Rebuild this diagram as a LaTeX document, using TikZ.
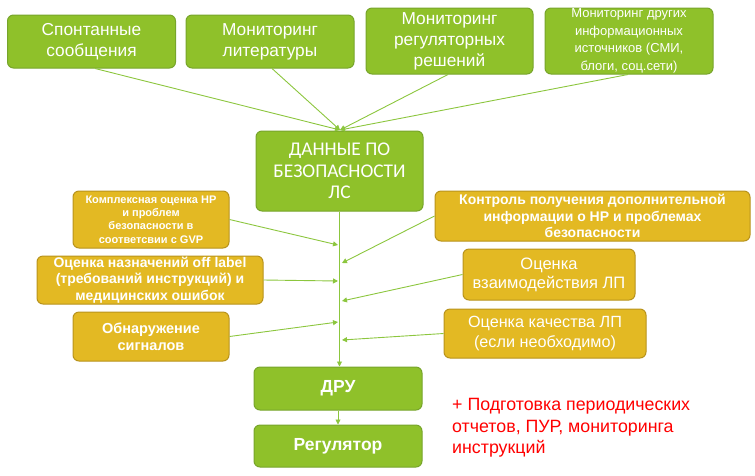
\documentclass[tikz,border=0pt]{standalone}
\usepackage{fontspec}
\setmainfont{Liberation Sans}
\newfontfamily\calibrifont{Carlito}
\usetikzlibrary{arrows.meta}

\definecolor{leafgreen}{RGB}{143,193,42}
\definecolor{leafedge}{RGB}{119,165,42}
\definecolor{goldfill}{RGB}{227,185,35}
\definecolor{goldedge}{RGB}{184,147,28}
\definecolor{linkgreen}{RGB}{140,198,62}

\tikzset{
  greenbox/.style={draw=leafedge, fill=leafgreen, line width=1pt, rounded corners=6pt,
    text=white, align=center, inner sep=0pt},
  goldbox/.style={draw=goldedge, fill=goldfill, line width=1pt, rounded corners=6pt,
    text=white, align=center, inner sep=0pt},
  link/.style={draw=linkgreen, line width=0.9pt, -{Triangle[length=5pt,width=5pt]}},
}

\begin{document}
\begin{tikzpicture}[x=1pt, y=-1pt]
    \useasboundingbox (0,0) rectangle (755,475);

    % Sources
    \node[greenbox, minimum width=168, minimum height=53, font=\fontsize{17.3}{21}\selectfont] (spont) at (91.5,41.5) {Спонтанные\\сообщения};
    \node[greenbox, minimum width=168, minimum height=53, font=\fontsize{17.3}{21}\selectfont] (lit) at (270,41.5) {Мониторинг\\литературы};
    \node[greenbox, minimum width=167, minimum height=66, font=\fontsize{17.3}{21}\selectfont] (reg) at (449.5,41) {Мониторинг\\регуляторных\\решений};
    \node[greenbox, minimum width=168, minimum height=66, font=\fontsize{13}{17.5}\selectfont] (media) at (629,41) {Мониторинг других\\информационных\\источников (СМИ,\\блоги, соц.сети)};

    % Safety data
    \node[greenbox, minimum width=167, minimum height=80, font=\calibrifont\fontsize{19.4}{21.5}\selectfont] (data) at (339.5,171) {ДАННЫЕ ПО\\БЕЗОПАСНОСТИ\\ЛС};

    % Left activities
    \node[goldbox, minimum width=156, minimum height=57, font=\bfseries\fontsize{11}{13.3}\selectfont] (complex) at (151,219.5) {Комплексная оценка НР\\и проблем\\безопасности в\\соответсвии с GVP};
    \node[goldbox, minimum width=226, minimum height=48, font=\bfseries\fontsize{14}{16.5}\selectfont] (offlabel) at (150,280) {Оценка назначений off label\\(требований инструкций) и\\медицинских ошибок};
    \node[goldbox, minimum width=156, minimum height=49, font=\bfseries\fontsize{14.5}{17}\selectfont] (signal) at (151,336.5) {Обнаружение\\сигналов};

    % Right activities
    \node[goldbox, minimum width=315, minimum height=50, font=\bfseries\fontsize{14}{16.5}\selectfont] (control) at (592.5,216) {Контроль получения дополнительной\\информации о НР и проблемах\\безопасности};
    \node[goldbox, minimum width=172, minimum height=51, font=\fontsize{16.5}{19}\selectfont] (interact) at (549,274.5) {Оценка\\взаимодействия ЛП};
    \node[goldbox, minimum width=202, minimum height=49, font=\fontsize{16.2}{20}\selectfont] (quality) at (545,333.5) {Оценка качества ЛП\\(если необходимо)};

    % Outputs
    \node[greenbox, minimum width=168, minimum height=43, font=\bfseries\fontsize{17.5}{18}\selectfont] (dru) at (338,388.5) {ДРУ};
    \node[greenbox, minimum width=168, minimum height=42, font=\bfseries\fontsize{17.5}{18}\selectfont] (regulator) at (338,446) {Регулятор};

    \node[text=red, align=left, anchor=north west, inner sep=0pt, font=\fontsize{17.8}{21.5}\selectfont] (extra) at (452,398.5) {+ Подготовка периодических\\отчетов, ПУР, мониторинга\\инструкций};

    % Points on the trunk
    \coordinate (top) at (340,130);
    \coordinate (tComplex) at (338,245);
    \coordinate (tControl) at (342,263);
    \coordinate (tOff) at (338,281);
    \coordinate (tInteract) at (342,301);
    \coordinate (tSignal) at (338,322);
    \coordinate (tQuality) at (342,340);

    % Sources into data
    \draw[link] (spont.south) ++(3.5,0) -- (top);
    \draw[link] (lit.south) ++(2,0) -- (top);
    \draw[link] (reg.south) ++(-1.5,0) -- (top);
    \draw[link] (media.south) ++(-1,0) -- (top);

    % Trunk
    \draw[link] (data.south) -- (data.south |- dru.north);
    \draw[link] (dru) -- (regulator);

    % Activities into trunk
    \draw[link] (complex.east) -- (tComplex);
    \draw[link] (control.west) -- (tControl);
    \draw[link] (offlabel.east) -- (tOff);
    \draw[link] (interact.west) -- (tInteract);
    \draw[link] (signal.east) -- (tSignal);
    \draw[link] (quality.west) -- (tQuality);
\end{tikzpicture}
\end{document}
